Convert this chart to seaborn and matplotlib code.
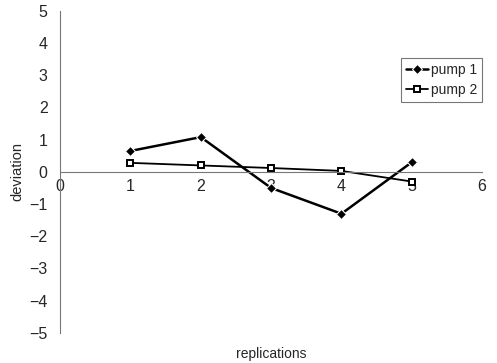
import matplotlib
matplotlib.use("Agg")
import matplotlib.pyplot as plt
import seaborn as sns
import pandas as pd

# Deviation per replication for each pump
replications = [1, 2, 3, 4, 5]
pump1 = [0.65, 1.08, -0.5, -1.3, 0.3]
pump2 = [0.28, 0.2, 0.12, 0.03, -0.3]
series_names = ["pump 1", "pump 2"]
x_ticks = [0, 1, 2, 3, 4, 5, 6]
y_ticks = [-5, -4, -3, -2, -1, 0, 1, 2, 3, 4, 5]

df = pd.DataFrame({
    "replications": replications * 2,
    "deviation": pump1 + pump2,
    "pump": [series_names[0]] * len(pump1) + [series_names[1]] * len(pump2),
})

sns.set_style("white")
plt.rcParams["font.family"] = ["Liberation Sans", "DejaVu Sans"]

fig = plt.figure(figsize=(4.97, 3.63), dpi=100)
ax = fig.add_axes([0.121, 0.083, 0.849, 0.887])

sns.lineplot(
    data=df, x="replications", y="deviation", hue="pump", style="pump",
    markers={"pump 1": "D", "pump 2": "s"}, dashes=False,
    palette={"pump 1": "black", "pump 2": "black"},
    linewidth=1.8, markersize=5, ax=ax,
)
# pump 2 uses hollow squares
for line in ax.lines:
    if line.get_marker() == "s":
        line.set_markerfacecolor("white")
        line.set_markeredgecolor("black")
        line.set_markeredgewidth(1.4)
        line.set_linewidth(1.3)

ax.set_xlim(0, 6)
ax.set_ylim(-5, 5)
ax.set_xticks(x_ticks)
ax.set_yticks(y_ticks)
ax.set_yticklabels([str(t).replace("-", "\u2212") for t in y_ticks])

# axes cross at the origin
ax.spines["left"].set_position(("data", 0))
ax.spines["bottom"].set_position(("data", 0))
ax.spines["top"].set_visible(False)
ax.spines["right"].set_visible(False)
for s in ("left", "bottom"):
    ax.spines[s].set_color("#777777")
    ax.spines[s].set_linewidth(0.8)

ax.tick_params(axis="y", direction="out", length=3, width=0.6, color="#777777",
               labelsize=11.5, pad=6)
ax.tick_params(axis="x", direction="out", length=0, labelsize=11.5, pad=5)

ax.set_xlabel("replications", fontsize=10)
ax.xaxis.set_label_coords(0.5, -0.045)
ax.set_ylabel("deviation", fontsize=10.5)
ax.yaxis.set_label_coords(-0.085, 0.5)

handles, labels = ax.get_legend_handles_labels()
leg = ax.legend(handles, labels, loc="upper right", bbox_to_anchor=(1.0, 0.853),
                frameon=True, fancybox=False, fontsize=10, handlelength=1.6,
                handletextpad=0.2, borderpad=0.35, labelspacing=0.45,
                borderaxespad=0.0)
leg.get_frame().set_edgecolor("#555555")
leg.get_frame().set_linewidth(0.8)

fig.savefig("out.png", dpi=100)
